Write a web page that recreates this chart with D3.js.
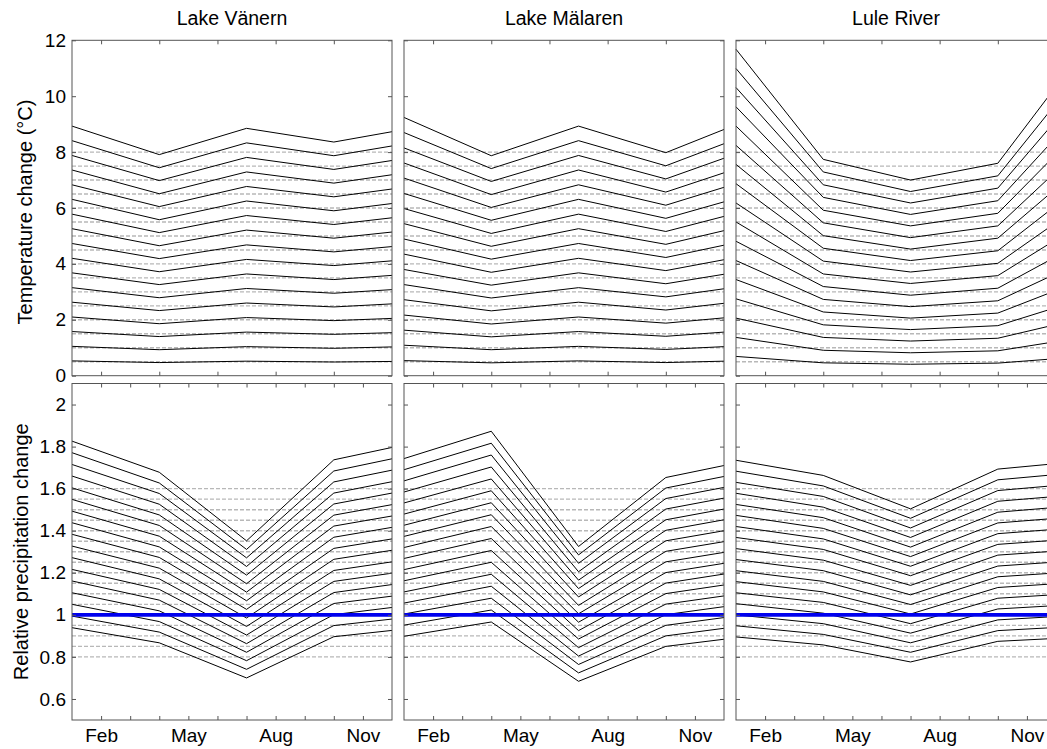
<!DOCTYPE html>
<html>
<head>
<meta charset="utf-8">
<script src="https://cdn.jsdelivr.net/npm/d3@7"></script>
<style>
  html, body { margin: 0; padding: 0; background: #fff; }
  svg { display: block; font-family: "Liberation Sans", Arial, sans-serif; }
</style>
</head>
<body>
<svg id="chart" width="1047" height="749"></svg>
<script>
// ---------------- DATA ----------------
const stations = ["Lake Vänern", "Lake Mälaren", "Lule River"];
const seasonMonths = [1, 4, 7, 10, 12];

const monthTicksTop = [2, 4, 6, 8, 10];
const monthTicksBottom = [2, 3, 4, 5, 6, 7, 8, 9, 10, 11];
const monthLabelValues = [2, 5, 8, 11];
const monthLabels = ["Feb", "May", "Aug", "Nov"];

const tempTicks = [0, 2, 4, 6, 8, 10, 12];
const precTicks = [0.6, 0.8, 1, 1.2, 1.4, 1.6, 1.8, 2];

const tempRefLevels = [0.5, 1, 1.5, 2, 2.5, 3, 3.5, 4, 4.5, 5, 5.5, 6, 6.5, 7, 7.5, 8];
const precRefLevels = [0.8, 0.85, 0.9, 0.95, 1.05, 1.1, 1.15, 1.2, 1.25, 1.3, 1.35, 1.4, 1.45, 1.5, 1.55, 1.6];
const precBaseline = 1;

// temperature change (°C), one row per scenario, values at seasonMonths
const tempVanern = [
  [0.53, 0.47, 0.52, 0.49, 0.51],
  [1.05, 0.93, 1.04, 0.98, 1.03],
  [1.58, 1.40, 1.56, 1.48, 1.54],
  [2.10, 1.86, 2.08, 1.97, 2.05],
  [2.63, 2.33, 2.60, 2.46, 2.57],
  [3.15, 2.79, 3.12, 2.95, 3.08],
  [3.68, 3.26, 3.64, 3.44, 3.59],
  [4.20, 3.72, 4.16, 3.94, 4.11],
  [4.73, 4.19, 4.68, 4.43, 4.62],
  [5.26, 4.65, 5.21, 4.92, 5.14],
  [5.78, 5.12, 5.73, 5.41, 5.65],
  [6.31, 5.58, 6.25, 5.90, 6.16],
  [6.83, 6.05, 6.77, 6.40, 6.68],
  [7.36, 6.51, 7.29, 6.89, 7.19],
  [7.88, 6.98, 7.81, 7.38, 7.70],
  [8.41, 7.44, 8.33, 7.87, 8.22],
  [8.93, 7.91, 8.85, 8.36, 8.73]
];
const tempMalaren = [
  [0.54, 0.46, 0.53, 0.47, 0.52],
  [1.09, 0.93, 1.05, 0.94, 1.04],
  [1.63, 1.39, 1.58, 1.41, 1.56],
  [2.17, 1.85, 2.10, 1.88, 2.07],
  [2.72, 2.32, 2.63, 2.35, 2.59],
  [3.26, 2.78, 3.15, 2.82, 3.11],
  [3.80, 3.24, 3.68, 3.29, 3.63],
  [4.35, 3.70, 4.20, 3.76, 4.15],
  [4.89, 4.17, 4.73, 4.23, 4.67],
  [5.44, 4.63, 5.26, 4.70, 5.19],
  [5.98, 5.09, 5.78, 5.16, 5.70],
  [6.52, 5.56, 6.31, 5.63, 6.22],
  [7.07, 6.02, 6.83, 6.10, 6.74],
  [7.61, 6.48, 7.36, 6.57, 7.26],
  [8.15, 6.95, 7.88, 7.04, 7.78],
  [8.70, 7.41, 8.41, 7.51, 8.30],
  [9.24, 7.87, 8.93, 7.98, 8.81]
];
const tempLule = [
  [0.69, 0.46, 0.41, 0.45, 0.61],
  [1.37, 0.91, 0.82, 0.89, 1.22],
  [2.06, 1.37, 1.24, 1.34, 1.83],
  [2.75, 1.82, 1.65, 1.79, 2.44],
  [3.44, 2.28, 2.06, 2.24, 3.05],
  [4.12, 2.73, 2.47, 2.68, 3.65],
  [4.81, 3.19, 2.88, 3.13, 4.26],
  [5.50, 3.64, 3.30, 3.58, 4.87],
  [6.18, 4.10, 3.71, 4.02, 5.48],
  [6.87, 4.56, 4.12, 4.47, 6.09],
  [7.56, 5.01, 4.53, 4.92, 6.70],
  [8.24, 5.47, 4.94, 5.36, 7.31],
  [8.93, 5.92, 5.36, 5.81, 7.92],
  [9.62, 6.38, 5.77, 6.26, 8.53],
  [10.31, 6.83, 6.18, 6.71, 9.14],
  [10.99, 7.29, 6.59, 7.15, 9.74],
  [11.68, 7.74, 7.00, 7.60, 10.35]
];

// relative precipitation change, one row per scenario, values at seasonMonths
const precVanern = [
  [0.939, 0.867, 0.700, 0.896, 0.926],
  [0.994, 0.918, 0.741, 0.949, 0.980],
  [1.050, 0.968, 0.782, 1.001, 1.035],
  [1.105, 1.019, 0.822, 1.054, 1.089],
  [1.161, 1.070, 0.863, 1.106, 1.144],
  [1.216, 1.121, 0.904, 1.159, 1.198],
  [1.272, 1.171, 0.945, 1.211, 1.252],
  [1.327, 1.222, 0.985, 1.264, 1.307],
  [1.383, 1.273, 1.026, 1.316, 1.361],
  [1.438, 1.323, 1.067, 1.369, 1.416],
  [1.493, 1.374, 1.108, 1.422, 1.470],
  [1.549, 1.425, 1.148, 1.474, 1.524],
  [1.604, 1.475, 1.189, 1.527, 1.579],
  [1.660, 1.526, 1.230, 1.579, 1.633],
  [1.715, 1.577, 1.271, 1.632, 1.688],
  [1.771, 1.627, 1.311, 1.684, 1.742],
  [1.826, 1.678, 1.352, 1.737, 1.796]
];
const precMalaren = [
  [0.898, 0.966, 0.684, 0.850, 0.884],
  [0.951, 1.023, 0.724, 0.900, 0.936],
  [1.004, 1.079, 0.764, 0.950, 0.987],
  [1.056, 1.136, 0.804, 1.001, 1.039],
  [1.109, 1.193, 0.844, 1.051, 1.090],
  [1.162, 1.250, 0.885, 1.101, 1.142],
  [1.215, 1.306, 0.925, 1.151, 1.194],
  [1.268, 1.363, 0.965, 1.201, 1.245],
  [1.320, 1.420, 1.005, 1.252, 1.297],
  [1.373, 1.476, 1.045, 1.302, 1.348],
  [1.426, 1.533, 1.085, 1.352, 1.400],
  [1.479, 1.590, 1.125, 1.402, 1.452],
  [1.532, 1.646, 1.165, 1.452, 1.503],
  [1.584, 1.703, 1.205, 1.503, 1.555],
  [1.637, 1.760, 1.245, 1.553, 1.606],
  [1.690, 1.816, 1.285, 1.603, 1.658],
  [1.743, 1.873, 1.325, 1.653, 1.710]
];
const precLule = [
  [0.895, 0.857, 0.776, 0.874, 0.888],
  [0.948, 0.907, 0.822, 0.925, 0.940],
  [1.000, 0.958, 0.867, 0.976, 0.992],
  [1.053, 1.008, 0.913, 1.028, 1.044],
  [1.105, 1.059, 0.958, 1.079, 1.096],
  [1.158, 1.109, 1.004, 1.130, 1.148],
  [1.210, 1.159, 1.049, 1.181, 1.199],
  [1.263, 1.210, 1.095, 1.232, 1.251],
  [1.315, 1.260, 1.140, 1.284, 1.303],
  [1.368, 1.311, 1.186, 1.335, 1.355],
  [1.420, 1.361, 1.231, 1.386, 1.407],
  [1.473, 1.411, 1.277, 1.437, 1.459],
  [1.525, 1.462, 1.322, 1.488, 1.511],
  [1.578, 1.512, 1.368, 1.540, 1.563],
  [1.630, 1.563, 1.413, 1.591, 1.615],
  [1.683, 1.613, 1.459, 1.642, 1.667],
  [1.735, 1.663, 1.504, 1.693, 1.719]
];

// ---------------- LAYOUT ----------------
const svg = d3.select("#chart");
const colX = [72, 404, 736];
const panelW = 320;
const rowTop = { y0: 40.3, y1: 375.7 };
const rowBot = { y0: 383.5, y1: 720 };
const TICK_FONT = 19;
const TITLE_FONT = 19.5;
const LABEL_FONT = 20;
const tickLen = 4;

const tempData = [tempVanern, tempMalaren, tempLule];
const precData = [precVanern, precMalaren, precLule];

function drawPanel(ci, isTop) {
  const x0 = colX[ci];
  const row = isTop ? rowTop : rowBot;
  const x = d3.scaleLinear().domain([1, 12]).range([x0, x0 + panelW]);
  const y = isTop
    ? d3.scaleLinear().domain([0, 12]).range([row.y1, row.y0])
    : d3.scaleLinear().domain([0.5, 2.1]).range([row.y1, row.y0]);
  const g = svg.append("g");

  // reference dashed lines
  const refs = isTop ? tempRefLevels : precRefLevels;
  g.selectAll("line.ref").data(refs).enter().append("line")
    .attr("x1", x(1)).attr("x2", x(12))
    .attr("y1", d => y(d)).attr("y2", d => y(d))
    .attr("stroke", "#b8b8b8").attr("stroke-width", 1.4)
    .attr("stroke-dasharray", "4,2");

  // scenario lines
  const rows = isTop ? tempData[ci] : precData[ci];
  const line = d3.line().x((d, i) => x(seasonMonths[i])).y(d => y(d));
  g.selectAll("path.sc").data(rows).enter().append("path")
    .attr("d", line).attr("fill", "none")
    .attr("stroke", "#000").attr("stroke-width", 1);

  if (!isTop) {
    g.append("line")
      .attr("x1", x(1)).attr("x2", x(12))
      .attr("y1", y(precBaseline)).attr("y2", y(precBaseline))
      .attr("stroke", "#0000ee").attr("stroke-width", 3.6);
  }

  // axes (ticks inward)
  const yTicks = isTop ? tempTicks : precTicks;
  const xTicks = isTop ? monthTicksTop : monthTicksBottom;
  const showYLabels = ci === 0;
  const yFmt = d => showYLabels ? d3.format("")(+d.toFixed(1)) : "";
  const axL = d3.axisLeft(y).tickValues(yTicks).tickSize(-tickLen).tickPadding(6).tickFormat(yFmt);
  const axR = d3.axisRight(y).tickValues(yTicks).tickSize(-tickLen).tickFormat("");
  const axT = d3.axisTop(x).tickValues(xTicks).tickSize(-tickLen).tickFormat("");
  const labelFmt = d => {
    const k = monthLabelValues.indexOf(d);
    return (!isTop && k >= 0) ? monthLabels[k] : "";
  };
  const axB = d3.axisBottom(x).tickValues(xTicks).tickSize(-tickLen).tickPadding(9).tickFormat(labelFmt);

  const axes = [
    g.append("g").attr("transform", `translate(${x0},0)`).call(axL),
    g.append("g").attr("transform", `translate(${x0 + panelW},0)`).call(axR),
    g.append("g").attr("transform", `translate(0,${row.y0})`).call(axT),
    g.append("g").attr("transform", `translate(0,${row.y1})`).call(axB)
  ];
  axes.forEach(a => {
    a.select(".domain").remove();
    a.selectAll(".tick line").attr("stroke", "#555").attr("stroke-width", 1);
    a.selectAll(".tick text").attr("fill", "#000")
      .style("font-size", TICK_FONT + "px")
      .style("font-family", '"Liberation Sans", Arial, sans-serif');
  });

  // frame
  g.append("rect")
    .attr("x", x0).attr("y", row.y0)
    .attr("width", panelW).attr("height", row.y1 - row.y0)
    .attr("fill", "none").attr("stroke", "#555").attr("stroke-width", 1);
}

for (let ci = 0; ci < 3; ci++) {
  drawPanel(ci, true);
  drawPanel(ci, false);
}

// titles
svg.selectAll("text.title").data(stations).enter().append("text")
  .attr("x", (d, i) => colX[i] + panelW / 2)
  .attr("y", 25)
  .attr("text-anchor", "middle")
  .style("font-size", TITLE_FONT + "px")
  .text(d => d);

// y axis titles
svg.append("text")
  .attr("transform", `translate(32,${(rowTop.y0 + rowTop.y1) / 2 + 4}) rotate(-90)`)
  .attr("text-anchor", "middle")
  .style("font-size", LABEL_FONT + "px")
  .text("Temperature change (°C)");
svg.append("text")
  .attr("transform", `translate(28,${(rowBot.y0 + rowBot.y1) / 2}) rotate(-90)`)
  .attr("text-anchor", "middle")
  .style("font-size", LABEL_FONT + "px")
  .text("Relative precipitation change");
</script>
</body>
</html>
